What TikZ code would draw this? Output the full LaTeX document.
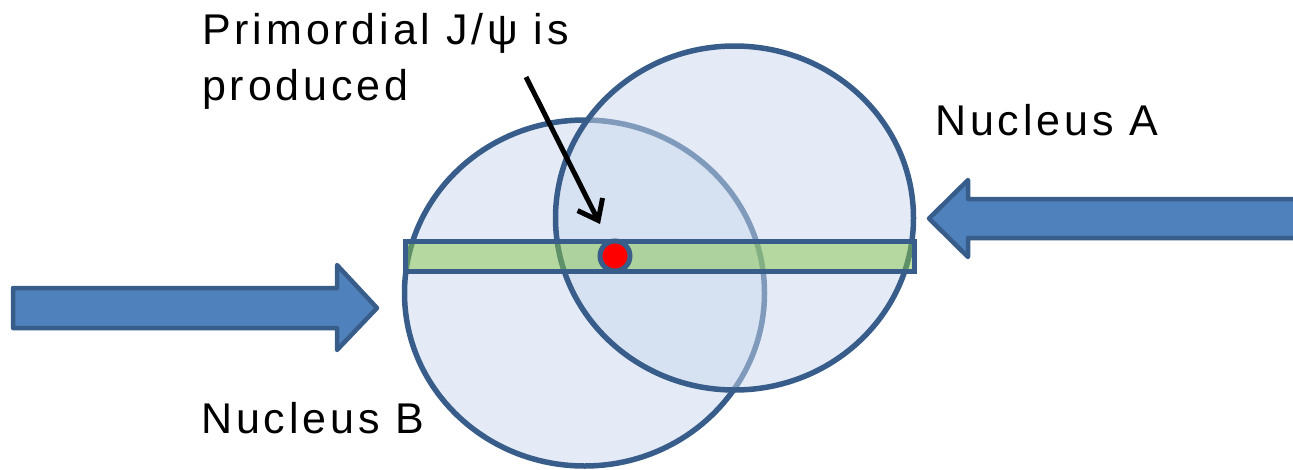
\documentclass[tikz,border=0pt]{standalone}
\usepackage{fontspec}
\newfontfamily\lblfont{Liberation Sans}[LetterSpace=9]
\usetikzlibrary{arrows.meta}
\definecolor{edgeblue}{RGB}{56,93,138}
\definecolor{nucfill}{RGB}{201,215,237}
\definecolor{barfill}{RGB}{134,197,74}
\definecolor{beamfill}{RGB}{79,129,189}
\begin{document}
\begin{tikzpicture}[x=1pt,y=-1pt,
  nucleus/.style={draw=edgeblue, line width=5.5pt, fill=nucfill, fill opacity=0.5},
  band/.style={draw=edgeblue, line width=5pt, fill=barfill, fill opacity=0.5},
  beam/.style={draw=edgeblue, line width=4.5pt, fill=beamfill, line join=round},
  pointer/.style={draw=black, line width=5pt, -{Straight Barb[length=18pt,width=28pt]}},
  lbl/.style={font=\lblfont\fontsize{43}{52}\selectfont, anchor=base west, inner sep=0pt, text=black}
]
\useasboundingbox (0,0) rectangle (1293,469);
\clip (0,0) rectangle (1293,469);
% nuclei
\draw[nucleus] (584.5,293) ellipse [x radius=180pt, y radius=173pt];
\draw[nucleus] (734.5,218) ellipse [x radius=179pt, y radius=172pt];
% overlap band
\draw[band] (405,241) rectangle (914,271);
% J/psi
\node[circle, draw=edgeblue, line width=5pt, fill=red, minimum size=30pt, inner sep=0pt] (jpsi) at (615,256) {};
% beam arrows
\draw[beam] (13,288) -- (337,288) -- (337,265) -- (377,308) -- (337,350) -- (337,328) -- (13,328) -- cycle;
\draw[beam] (1310,199) -- (968,199) -- (968,180) -- (929,218.5) -- (968,257) -- (968,238) -- (1310,238) -- cycle;
% labels
\node[lbl] (title1) at (202,44) {Primordial J/ψ is};
\node[lbl] (title2) at (202,100) {produced};
\node[lbl] (nucA) at (935,135) {Nucleus A};
\node[lbl] (nucB) at (201,433) {Nucleus B};
% pointer
\coordinate (ptrtail) at (526,77);
\coordinate (ptrtip) at (600,224);
\draw[pointer] (ptrtail) -- (ptrtip);
\end{tikzpicture}
\end{document}
